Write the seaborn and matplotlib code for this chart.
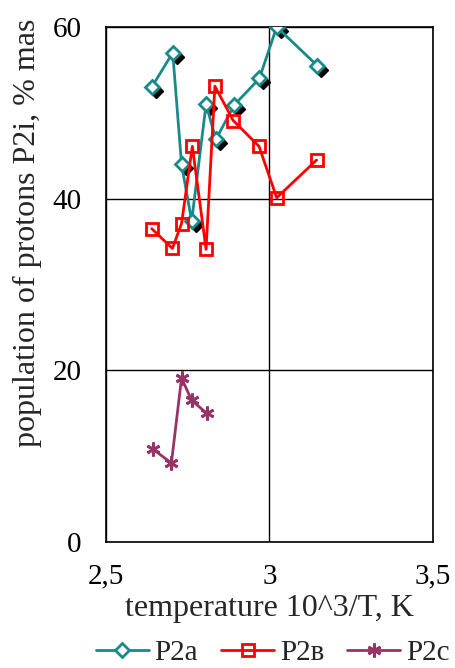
import matplotlib
matplotlib.use("Agg")
import matplotlib.pyplot as plt
import matplotlib.transforms as mtransforms
import seaborn as sns
import pandas as pd

# data
p2a_x = [2.640, 2.704, 2.731, 2.762, 2.806, 2.836, 2.892, 2.969, 3.022, 3.146]
p2a_y = [53.0, 57.0, 44.0, 37.4, 51.0, 46.9, 50.9, 54.0, 60.0, 55.5]

p2b_x = [2.640, 2.703, 2.731, 2.764, 2.806, 2.833, 2.889, 2.968, 3.022, 3.144]
p2b_y = [36.5, 34.2, 37.1, 46.1, 34.1, 53.1, 49.1, 46.1, 40.1, 44.5]

p2c_x = [2.644, 2.700, 2.731, 2.762, 2.808]
p2c_y = [10.8, 9.2, 19.1, 16.5, 15.0]

x_ticks = [2.5, 3.0, 3.5]
x_tick_labels = ["2,5", "3", "3,5"]
y_ticks = [0, 20, 40, 60]

teal = "#178a8a"
red = "#ff0000"
plum = "#993366"
fs = 21
fs_lab = 23

sns.set_style("white")
plt.rcParams["font.family"] = ["Liberation Serif", "DejaVu Serif"]

df_a = pd.DataFrame({"x": p2a_x, "y": p2a_y})
df_b = pd.DataFrame({"x": p2b_x, "y": p2b_y})
df_c = pd.DataFrame({"x": p2c_x, "y": p2c_y})

fig = plt.figure(figsize=(4.56, 6.68), dpi=100)
ax = fig.add_axes([0.2325, 0.1886, 0.717, 0.771])

# black shadow under the P2a diamonds
shadow = mtransforms.offset_copy(ax.transData, fig=fig, x=4, y=-4, units="dots")
ax.plot(df_a["x"], df_a["y"], linestyle="none", marker="D", markersize=7.5,
        color="black", transform=shadow, zorder=2)

sns.lineplot(data=df_a, x="x", y="y", sort=False, ax=ax, color=teal, lw=2,
             marker="D", markersize=7.5, markerfacecolor="white",
             markeredgecolor=teal, markeredgewidth=2, label="P2a", zorder=3)
sns.lineplot(data=df_b, x="x", y="y", sort=False, ax=ax, color=red, lw=2,
             marker="s", markersize=9, markerfacecolor="none",
             markeredgecolor=red, markeredgewidth=2, label="P2в", zorder=4)
sns.lineplot(data=df_c, x="x", y="y", sort=False, ax=ax, color=plum, lw=2,
             marker=(6, 2, 0), markersize=10, markeredgecolor=plum,
             markeredgewidth=2, label="P2c", zorder=4)

ax.set_xlim(2.5, 3.5)
ax.set_ylim(0, 60)
ax.set_xticks(x_ticks)
ax.set_xticklabels(x_tick_labels)
ax.set_yticks(y_ticks)
ax.grid(True, color="black", lw=1)
for s in ax.spines.values():
    s.set_color("black")
    s.set_linewidth(1.2)
ax.tick_params(axis="both", direction="inout", length=9, width=1,
               labelsize=fs, colors="black")
ax.tick_params(axis="x", pad=11)
ax.tick_params(axis="y", pad=13)

ax.set_xlabel("temperature 10^3/T, K", fontsize=fs_lab, labelpad=3)
ax.set_ylabel("population of protons P2i, % mas", fontsize=fs_lab)
ax.yaxis.set_label_coords(-0.195, 0.6)

ax.legend(loc="center", bbox_to_anchor=(0.51, -0.216), ncol=3,
          frameon=False, fontsize=fs, handlelength=1.8, columnspacing=0.8,
          handletextpad=0.2, borderpad=0, borderaxespad=0)

fig.savefig("out.png", dpi=100)
